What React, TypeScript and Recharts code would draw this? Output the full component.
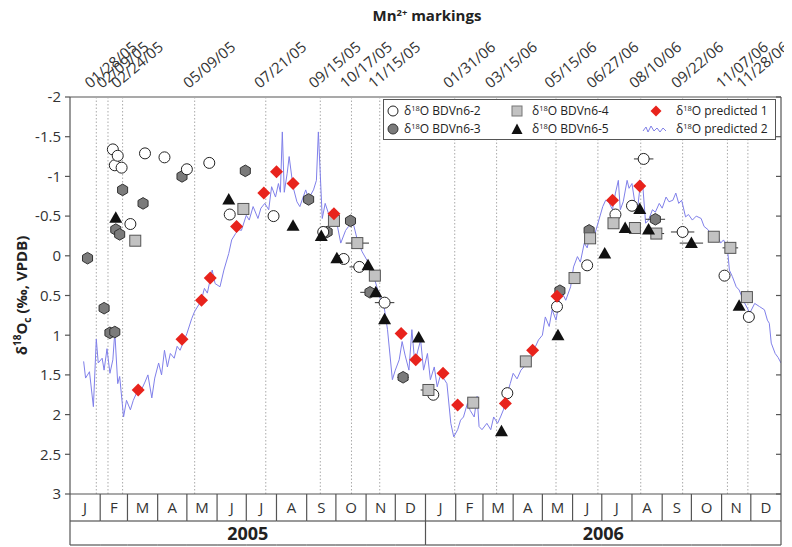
import React from "react";
import { ComposedChart, Line, Scatter, XAxis, YAxis, ReferenceLine, ErrorBar } from "recharts";

const FONT = "'Open Sans', 'DejaVu Sans', sans-serif";
const AXIS = "#555";
const TEXT = "#333";

// x values are days since 1 Jan 2005
const monthStarts = [0, 31, 59, 90, 120, 151, 181, 212, 243, 273, 304, 334, 365, 396, 424, 455, 485, 516, 546, 577, 608, 638, 669, 699, 730];
const monthLetters = ["J", "F", "M", "A", "M", "J", "J", "A", "S", "O", "N", "D"];
const years = ["2005", "2006"];
const yTicks = [-2, -1.5, -1, -0.5, 0, 0.5, 1, 1.5, 2, 2.5, 3];

const markDays = [27, 39, 54, 128, 201, 257, 289, 318, 395, 438, 499, 542, 586, 629, 675, 696];
const markLabels = ["01/28/05", "02/09/05", "02/24/05", "05/09/05", "07/21/05", "09/15/05", "10/17/05", "11/15/05", "01/31/06", "03/15/06", "05/15/06", "06/27/06", "08/10/06", "09/22/06", "11/07/06", "11/28/06"];

const bdv2Day = [44, 46, 49, 53, 62, 77, 97, 120, 143, 164, 209, 260, 281, 297, 323, 373, 449, 500, 531, 560, 577, 589, 629, 672, 697];
const bdv2Val = [-1.34, -1.14, -1.26, -1.11, -0.4, -1.29, -1.24, -1.09, -1.17, -0.52, -0.5, -0.3, 0.04, 0.14, 0.59, 1.75, 1.73, 0.64, 0.12, -0.52, -0.63, -1.22, -0.3, 0.25, 0.77];
const bdv2Err = [0, 0, 0, 0, 0, 0, 0, 0, 0, 0, 0, 0, 0, 10, 10, 0, 0, 0, 0, 0, 0, 10, 12, 0, 0];

const bdv3Day = [18, 35, 41, 46, 47, 51, 54, 75, 115, 180, 245, 264, 288, 308, 342, 503, 533, 601];
const bdv3Val = [0.03, 0.66, 0.97, 0.96, -0.33, -0.27, -0.83, -0.66, -1.0, -1.07, -0.71, -0.3, -0.44, 0.46, 1.53, 0.44, -0.32, -0.46];
const bdv3Err = [0, 0, 0, 0, 0, 0, 0, 0, 0, 0, 0, 0, 0, 10, 6, 0, 0, 10];

const bdv4Day = [67, 178, 271, 295, 313, 368, 414, 468, 518, 534, 558, 580, 602, 661, 678, 695];
const bdv4Val = [-0.19, -0.59, -0.44, -0.16, 0.25, 1.69, 1.85, 1.33, 0.28, -0.22, -0.41, -0.35, -0.28, -0.24, -0.1, 0.52];
const bdv4Err = [0, 0, 0, 12, 0, 8, 0, 0, 0, 0, 0, 0, 8, 0, 8, 0];

const bdv5Day = [47, 163, 229, 258, 274, 306, 314, 323, 358, 443, 501, 549, 570, 585, 594, 638, 687];
const bdv5Val = [-0.48, -0.71, -0.38, -0.25, 0.03, 0.12, 0.46, 0.8, 1.03, 2.21, 1.0, -0.03, -0.35, -0.59, -0.33, -0.16, 0.63];
const bdv5Err = [0, 0, 0, 0, 0, 0, 0, 0, 0, 0, 0, 0, 0, 0, 0, 12, 0];

const pred1Day = [70, 115, 135, 144, 171, 199, 212, 229, 271, 340, 355, 383, 398, 447, 475, 500, 557, 585];
const pred1Val = [1.69, 1.05, 0.56, 0.28, -0.37, -0.79, -1.06, -0.91, -0.53, 0.98, 1.31, 1.48, 1.88, 1.86, 1.19, 0.51, -0.7, -0.88];

const pred2Day = [14, 16, 20, 24, 27, 29, 33, 35, 38, 41, 44, 46, 49, 51, 55, 58, 62, 65, 69, 74, 77, 80, 84, 87, 91, 94, 97, 100, 103, 107, 110, 113, 116, 120, 125, 128, 133, 135, 138, 141, 146, 149, 154, 158, 163, 166, 170, 173, 176, 181, 184, 188, 193, 196, 200, 204, 207, 211, 214, 216, 218, 220, 223, 225, 229, 233, 236, 242, 245, 250, 253, 255, 259, 262, 266, 269, 274, 278, 283, 286, 290, 295, 300, 306, 310, 315, 319, 322, 326, 331, 334, 338, 341, 344, 348, 351, 354, 357, 360, 363, 367, 370, 374, 377, 380, 384, 387, 391, 394, 398, 401, 404, 408, 411, 415, 418, 420, 423, 428, 432, 435, 439, 442, 445, 448, 452, 455, 459, 463, 466, 470, 474, 478, 481, 485, 488, 492, 495, 499, 502, 504, 509, 514, 517, 521, 524, 528, 531, 535, 539, 543, 547, 550, 553, 557, 560, 563, 565, 568, 572, 574, 577, 581, 583, 586, 588, 591, 594, 598, 601, 605, 608, 612, 615, 619, 622, 625, 628, 632, 635, 639, 643, 648, 651, 655, 660, 664, 668, 671, 675, 677, 680, 684, 687, 692, 698, 703, 708, 713, 716, 718, 720, 724, 727, 730];
const pred2Val = [1.33, 1.54, 1.46, 1.9, 1.05, 1.35, 1.29, 1.44, 1.17, 1.48, 1.31, 0.96, 1.61, 1.52, 2.03, 1.82, 1.94, 1.82, 1.71, 1.67, 1.59, 1.5, 1.79, 1.54, 1.35, 1.5, 1.19, 1.4, 1.23, 1.29, 1.14, 1.19, 1.1, 0.98, 0.79, 0.7, 0.6, 0.55, 0.41, 0.47, 0.18, 0.35, 0.39, 0.18, -0.03, -0.2, -0.28, -0.33, -0.32, -0.51, -0.45, -0.62, -0.47, -0.6, -0.66, -0.58, -0.87, -0.74, -0.91, -0.8, -1.56, -0.8, -1.04, -1.25, -0.87, -0.68, -0.62, -0.83, -0.72, -0.83, -0.95, -1.56, -0.47, -0.66, -0.51, -0.58, -0.41, -0.16, -0.32, -0.37, -0.45, -0.2, -0.05, 0.08, 0.18, 0.39, 0.56, 0.6, 0.93, 1.56, 1.44, 1.31, 1.08, 1.25, 1.44, 0.93, 1.35, 1.2, 1.06, 1.44, 1.23, 1.56, 1.4, 1.65, 1.52, 1.55, 1.61, 2.11, 2.28, 2.19, 2.07, 2.03, 1.86, 1.95, 2.03, 1.77, 2.15, 2.19, 2.11, 2.19, 2.03, 2.11, 2.03, 1.94, 1.77, 1.61, 1.48, 1.55, 1.44, 1.4, 1.31, 1.28, 1.14, 1.06, 1.0, 0.77, 0.89, 0.68, 0.81, 0.6, 0.43, 0.56, 0.39, 0.14, 0.01, 0.08, -0.16, -0.1, -0.32, -0.28, -0.45, -0.62, -0.7, -0.68, -0.58, -0.79, -0.95, -0.58, -0.68, -0.95, -0.85, -0.91, -0.58, -0.62, -0.95, -0.9, -0.41, -0.45, -0.58, -0.55, -0.66, -0.6, -0.74, -0.68, -0.7, -0.79, -0.66, -0.7, -0.49, -0.52, -0.45, -0.5, -0.47, -0.37, -0.33, -0.24, -0.28, -0.16, -0.2, -0.1, 0.18, 0.26, 0.39, 0.43, 0.58, 0.72, 0.6, 0.64, 0.68, 0.81, 0.85, 1.1, 1.23, 1.28, 1.35];

const pts = (d: number[], v: number[], e?: number[]) => d.map((day, i) => ({ day, v: v[i], xe: e ? e[i] : 0 }));

const bdv2 = pts(bdv2Day, bdv2Val, bdv2Err);
const bdv3 = pts(bdv3Day, bdv3Val, bdv3Err);
const bdv4 = pts(bdv4Day, bdv4Val, bdv4Err);
const bdv5 = pts(bdv5Day, bdv5Val, bdv5Err);
const pred1 = pts(pred1Day, pred1Val);
const pred2 = pts(pred2Day, pred2Val);

// layout
const W = 784;
const H = 539;
const MARGIN = { top: 89, right: 11, bottom: 1, left: 22 };
const YAXIS_W = 40;
const XAXIS_H = 52;
const PLOT_W = W - MARGIN.left - MARGIN.right - YAXIS_W;
const PX_PER_DAY = PLOT_W / 730;
const ROW1 = 27;
const ROW2 = 24;

const circleShape = (p: any) => <circle cx={p.cx} cy={p.cy} r={5.5} fill="#fff" stroke="#222" strokeWidth={1} />;
const hexShape = (p: any) => {
  const r = 5.8;
  const s = [0, 1, 2, 3, 4, 5].map((k) => {
    const a = (Math.PI / 3) * k + Math.PI / 6;
    return `${p.cx + r * Math.cos(a)},${p.cy + r * Math.sin(a)}`;
  });
  return <polygon points={s.join(" ")} fill="#7b7b7b" stroke="#333" strokeWidth={1} />;
};
const squareShape = (p: any) => <rect x={p.cx - 5.5} y={p.cy - 5.5} width={11} height={11} fill="#c2c2c2" stroke="#555" strokeWidth={1} />;
const triShape = (p: any) => (
  <polygon points={`${p.cx},${p.cy - 6.5} ${p.cx + 6.5},${p.cy + 5} ${p.cx - 6.5},${p.cy + 5}`} fill="#111" />
);
const diamondShape = (p: any) => (
  <polygon points={`${p.cx},${p.cy - 6.5} ${p.cx + 6.5},${p.cy} ${p.cx},${p.cy + 6.5} ${p.cx - 6.5},${p.cy}`} fill="#e8231c" />
);

const MonthTick = (props: any) => {
  const { x, y, payload } = props;
  const i = monthStarts.indexOf(payload.value);
  const full = i % 12 === 0;
  const line = { stroke: AXIS, strokeWidth: 1.2 };
  if (i < 0) return null;
  if (i === 24) {
    return <line x1={x} x2={x} y1={y} y2={y + ROW1 + ROW2} {...line} />;
  }
  const w = (monthStarts[i + 1] - monthStarts[i]) * PX_PER_DAY;
  return (
    <g>
      <line x1={x} x2={x} y1={y} y2={y + (full ? ROW1 + ROW2 : ROW1)} {...line} />
      <line x1={x} x2={x + w} y1={y + ROW1} y2={y + ROW1} {...line} />
      <line x1={x} x2={x + w} y1={y + ROW1 + ROW2} y2={y + ROW1 + ROW2} {...line} />
      <text x={x + w / 2} y={y + 19} textAnchor="middle" fontSize={15} fill={TEXT} fontFamily={FONT}>
        {monthLetters[i % 12]}
      </text>
      {full && (
        <text x={x + (365 * PX_PER_DAY) / 2} y={y + ROW1 + 19} textAnchor="middle" fontSize={18} fontWeight="bold" fill="#222" fontFamily={FONT}>
          {years[i / 12]}
        </text>
      )}
    </g>
  );
};

const topLabel = (text: string) => (p: any) => {
  const vb = p.viewBox || {};
  const x0 = vb.x - 6;
  const y0 = vb.y - 8;
  return (
    <text x={x0} y={y0} transform={`rotate(-40 ${x0} ${y0})`} fontSize={15} fill={TEXT} fontFamily={FONT}>
      {text}
    </text>
  );
};

const yLabel = (p: any) => {
  const vb = p.viewBox || { y: MARGIN.top, height: H - MARGIN.top - MARGIN.bottom - XAXIS_H };
  const cx = 19;
  const cy = vb.y + vb.height / 2;
  return (
    <text x={cx} y={cy} transform={`rotate(-90 ${cx} ${cy})`} textAnchor="middle" fontSize={15} fontWeight="bold" fill="#222" fontFamily={FONT}>
      δ<tspan dy={-6} fontSize={10}>18</tspan>
      <tspan dy={6}>O</tspan>
      <tspan dy={4} fontSize={10}>c</tspan>
      <tspan dy={-4}> (‰, VPDB)</tspan>
    </text>
  );
};

const sup = { fontSize: "0.62em", verticalAlign: "0.55em", lineHeight: 0 } as const;

const legendItems = [
  { name: "BDVn6-2", col: 0, row: 0, mark: <circle cx={7} cy={7} r={5} fill="#fff" stroke="#222" /> },
  { name: "BDVn6-3", col: 0, row: 1, mark: <circle cx={7} cy={7} r={5} fill="#7b7b7b" stroke="#333" /> },
  { name: "BDVn6-4", col: 1, row: 0, mark: <rect x={2} y={2} width={10} height={10} fill="#c2c2c2" stroke="#777" /> },
  { name: "BDVn6-5", col: 1, row: 1, mark: <polygon points="7,1.5 12.5,12 1.5,12" fill="#111" /> },
  { name: "predicted 1", col: 2, row: 0, mark: <polygon points="7,1.5 12.5,7 7,12.5 1.5,7" fill="#e8231c" /> },
  {
    name: "predicted 2",
    col: 2,
    row: 1,
    mark: <polyline points="-6,9 -3,5 -1,10 2,4 5,9 8,6 11,10 14,6 17,9" fill="none" stroke="#7f7fe6" strokeWidth={1} />,
  },
];
const colMark = [9, 133, 272];
const colText = [20, 148, 292];
const rowY = [11, 29];

export default function App() {
  return (
    <div style={{ position: "relative", width: W, height: H, fontFamily: FONT }}>
      <div style={{ position: "absolute", left: 319, top: -2, width: 200, textAlign: "center", fontSize: 15, fontWeight: "bold", color: "#222", lineHeight: "18px" }}>
        Mn<span style={sup}>2+</span> markings
      </div>
      <ComposedChart width={W} height={H} margin={MARGIN}>
        <XAxis
          dataKey="day"
          type="number"
          domain={[0, 730]}
          ticks={monthStarts}
          interval={0}
          height={XAXIS_H}
          tickSize={0}
          tickMargin={0}
          tickLine={false}
          axisLine={{ stroke: AXIS, strokeWidth: 1.2 }}
          tick={<MonthTick />}
          allowDataOverflow
        />
        <YAxis
          dataKey="v"
          type="number"
          domain={[-2, 3]}
          reversed
          ticks={yTicks}
          interval={0}
          width={YAXIS_W}
          tickSize={5}
          tickMargin={4}
          axisLine={{ stroke: AXIS, strokeWidth: 1.2 }}
          tickLine={{ stroke: AXIS, strokeWidth: 1.2 }}
          tick={{ fontSize: 15, fill: TEXT, fontFamily: FONT }}
          label={yLabel}
          allowDataOverflow
        />
        <YAxis
          yAxisId="r"
          orientation="right"
          mirror
          type="number"
          domain={[-2, 3]}
          reversed
          ticks={yTicks}
          interval={0}
          tickSize={5}
          tickFormatter={() => ""}
          axisLine={{ stroke: AXIS, strokeWidth: 1.2 }}
          tickLine={{ stroke: AXIS, strokeWidth: 1.2 }}
          allowDataOverflow
        />
        <ReferenceLine y={-2} stroke={AXIS} strokeWidth={1.2} />
        {markDays.map((d, i) => (
          <ReferenceLine key={d} x={d} stroke="#aaa" strokeWidth={1} strokeDasharray="1.5 2" label={topLabel(markLabels[i])} />
        ))}
        <Line data={pred2} dataKey="v" type="linear" stroke="#8080ea" strokeWidth={1} dot={false} activeDot={false} isAnimationActive={false} />
        <Scatter data={bdv3} dataKey="v" shape={hexShape} isAnimationActive={false}>
          <ErrorBar dataKey="xe" direction="x" width={0} stroke="#333" strokeWidth={1} />
        </Scatter>
        <Scatter data={bdv2} dataKey="v" shape={circleShape} isAnimationActive={false}>
          <ErrorBar dataKey="xe" direction="x" width={0} stroke="#333" strokeWidth={1} />
        </Scatter>
        <Scatter data={bdv4} dataKey="v" shape={squareShape} isAnimationActive={false}>
          <ErrorBar dataKey="xe" direction="x" width={0} stroke="#333" strokeWidth={1} />
        </Scatter>
        <Scatter data={bdv5} dataKey="v" shape={triShape} isAnimationActive={false}>
          <ErrorBar dataKey="xe" direction="x" width={0} stroke="#333" strokeWidth={1} />
        </Scatter>
        <Scatter data={pred1} dataKey="v" shape={diamondShape} isAnimationActive={false} />
      </ComposedChart>
      <div
        style={{
          position: "absolute",
          left: 375,
          top: 91,
          width: 393,
          height: 41,
          border: "1.5px solid #555",
          background: "#fff",
          boxSizing: "border-box",
          fontSize: 12,
          color: "#222",
        }}
      >
        {legendItems.map((it) => (
          <React.Fragment key={it.name}>
            <svg
              width={14}
              height={14}
              overflow="visible"
              style={{ position: "absolute", left: colMark[it.col] - 7, top: rowY[it.row] - 7 }}
            >
              {it.mark}
            </svg>
            <div style={{ position: "absolute", left: colText[it.col], top: rowY[it.row] - 8, lineHeight: "16px", whiteSpace: "nowrap" }}>
              δ<span style={sup}>18</span>O {it.name}
            </div>
          </React.Fragment>
        ))}
      </div>
    </div>
  );
}
